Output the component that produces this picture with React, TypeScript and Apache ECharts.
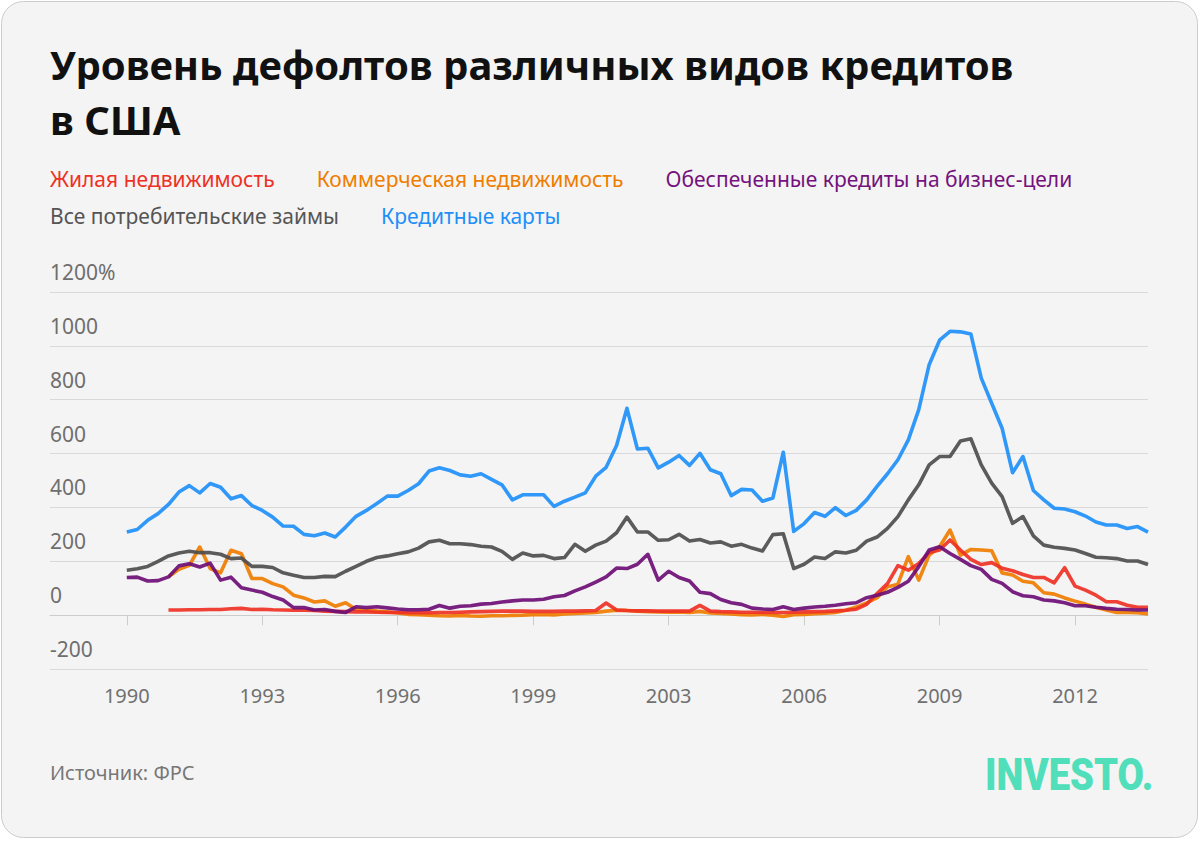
import React, { useEffect, useRef } from "react";
import * as echarts from "echarts";

// Quarterly data, 1990 Q1 … 2014 Q3 (index = quarter number from 1990 Q1)
const firstYear = 1990;
const quarterIndex: number[] = Array.from({ length: 99 }, (_, i) => i);
const tickQuarters = [0, 13, 26, 39, 52, 65, 78, 91];
const yTicks = [-200, 0, 200, 400, 600, 800, 1000, 1200];

const seriesNames = [
  "Жилая недвижимость",
  "Коммерческая недвижимость",
  "Обеспеченные кредиты на бизнес-цели",
  "Все потребительские займы",
  "Кредитные карты",
];

const residential = [
  null, null, null, null, 19, 19, 20, 20, 21, 21,
  24, 25, 21, 22, 20, 19, 18, 18, 17, 15,
  14, 13, 12, 12, 11, 10, 10, 9, 9, 9,
  10, 10, 11, 12, 13, 14, 15, 15, 15, 14,
  14, 14, 15, 15, 16, 17, 45, 19, 17, 16,
  16, 15, 15, 15, 15, 36, 15, 13, 12, 11,
  11, 10, 10, 10, 11, 12, 13, 14, 16, 18,
  22, 40, 80, 117, 184, 167, 192, 233, 242, 279,
  242, 207, 188, 195, 174, 165, 151, 140, 140, 120,
  176, 108, 93, 74, 50, 50, 37, 29, 29,
];

const commercial = [
  null, null, null, null, 142, 170, 185, 253, 173, 157,
  241, 228, 136, 136, 117, 105, 74, 64, 49, 53,
  33, 46, 21, 19, 15, 12, 8, 3, 2, 0,
  -2, -3, -1, -3, -4, -2, -2, -1, 0, 2,
  3, 1, 4, 6, 8, 10, 15, 18, 17, 15,
  13, 12, 11, 12, 10, 14, 8, 6, 4, 2,
  1, 3, 0, -5, 2, 3, 5, 7, 10, 18,
  30, 45, 65, 105, 115, 217, 130, 223, 254, 316,
  223, 244, 242, 239, 157, 149, 126, 120, 83, 78,
  64, 52, 41, 29, 19, 10, 10, 9, 4,
];

const business = [
  140, 141, 127, 128, 142, 183, 191, 179, 193, 130,
  141, 102, 93, 85, 69, 56, 28, 28, 19, 21,
  14, 10, 31, 28, 31, 27, 23, 20, 20, 22,
  36, 26, 33, 35, 41, 43, 49, 53, 56, 56,
  59, 68, 73, 90, 105, 123, 142, 175, 173, 189,
  226, 130, 163, 140, 127, 85, 80, 58, 46, 40,
  26, 23, 21, 31, 21, 26, 30, 33, 37, 42,
  46, 65, 74, 85, 103, 126, 180, 242, 254, 229,
  207, 184, 170, 133, 118, 87, 72, 68, 56, 53,
  46, 35, 35, 29, 25, 22, 21, 19, 19,
];

const consumer = [
  167, 172, 181, 200, 220, 231, 237, 232, 232, 226,
  210, 212, 181, 181, 177, 157, 148, 140, 140, 144,
  143, 163, 181, 200, 214, 220, 228, 235, 249, 272,
  278, 265, 265, 262, 256, 253, 237, 207, 231, 220,
  222, 210, 214, 263, 237, 260, 275, 306, 364, 309,
  309, 278, 280, 300, 275, 281, 268, 272, 256, 263,
  249, 238, 299, 302, 173, 189, 216, 210, 235, 231,
  241, 275, 290, 322, 366, 428, 484, 558, 589, 589,
  647, 655, 558, 490, 440, 341, 366, 294, 260, 252,
  248, 242, 229, 215, 213, 210, 201, 201, 188,
];

const creditCards = [
  309, 318, 352, 377, 411, 457, 481, 454, 489, 475,
  432, 444, 407, 389, 364, 331, 330, 300, 295, 305,
  290, 327, 367, 389, 415, 442, 442, 463, 488, 535,
  547, 537, 521, 516, 525, 504, 484, 428, 447, 447,
  447, 404, 423, 438, 454, 516, 549, 630, 768, 617,
  620, 547, 568, 593, 556, 601, 540, 525, 444, 467,
  465, 423, 435, 605, 311, 340, 381, 367, 399, 370,
  389, 428, 478, 525, 577, 651, 763, 930, 1021, 1054,
  1052, 1044, 880, 787, 694, 529, 589, 463, 428, 397,
  394, 384, 368, 346, 335, 335, 322, 329, 308,
];

const COLORS = {
  red: "#ee3124",
  orange: "#ef7d00",
  purple: "#6d0e76",
  gray: "#4d4d4d",
  blue: "#1e8ff7",
};

const FONT = "'Noto Sans', Roboto, sans-serif";

function toPoints(values: (number | null)[]) {
  const pts: [number, number][] = [];
  values.forEach((v, i) => {
    if (v !== null) pts.push([quarterIndex[i], v]);
  });
  return pts;
}

export default function App() {
  const ref = useRef<HTMLDivElement>(null);

  useEffect(() => {
    document.body.style.margin = "0";
    const chart = echarts.init(ref.current!, undefined, { renderer: "svg" });

    const lineSeries = (name: string, color: string, values: (number | null)[], z: number) => ({
      name,
      type: "line",
      data: toPoints(values),
      showSymbol: false,
      symbol: "none",
      z,
      lineStyle: { color, width: 3.6, opacity: 0.92, join: "round" },
      itemStyle: { color },
      emphasis: { disabled: true },
    });

    const legendBase = {
      icon: "none",
      itemWidth: 0,
      itemHeight: 22,
      itemGap: 37,
      left: 45,
      orient: "horizontal",
      selectedMode: false,
      padding: 0,
      textStyle: { fontSize: 21, fontFamily: FONT, lineHeight: 22 },
    };

    chart.setOption({
      animation: false,
      backgroundColor: "transparent",
      title: {
        text: "Уровень дефолтов различных видов кредитов\nв США",
        left: 50,
        top: 37,
        padding: 0,
        textStyle: {
          fontSize: 40,
          fontWeight: "bold",
          fontFamily: "'Noto Sans', Roboto, sans-serif",
          lineHeight: 55,
          color: "#111111",
        },
      },
      legend: [
        {
          ...legendBase,
          top: 168,
          data: [
            { name: seriesNames[0], textStyle: { color: COLORS.red } },
            { name: seriesNames[1], textStyle: { color: COLORS.orange } },
            { name: seriesNames[2], textStyle: { color: "#75127d" } },
          ],
        },
        {
          ...legendBase,
          top: 205,
          data: [
            { name: seriesNames[3], textStyle: { color: "#555555" } },
            { name: seriesNames[4], textStyle: { color: COLORS.blue } },
          ],
        },
      ],
      grid: { left: 50, right: 52, top: 292, bottom: 172, containLabel: false },
      xAxis: {
        type: "value",
        min: -7.37,
        max: 98,
        splitLine: { show: false },
        axisLine: { show: true, lineStyle: { color: "#cccccc", width: 1 } },
        axisTick: {
          show: true,
          customValues: tickQuarters,
          length: 10,
          lineStyle: { color: "#cccccc" },
        },
        axisLabel: {
          customValues: tickQuarters,
          formatter: (v: number) => String(firstYear + Math.floor(v / 4)),
          color: "#707070",
          fontSize: 20,
          fontFamily: FONT,
          margin: 16,
          lineHeight: 20,
        },
      },
      yAxis: {
        type: "value",
        min: yTicks[0],
        max: yTicks[yTicks.length - 1],
        interval: 200,
        axisLine: { show: false },
        axisTick: { show: false },
        splitLine: { show: true, lineStyle: { color: "#d9d9d9", width: 1 } },
        axisLabel: {
          inside: true,
          margin: 0,
          align: "left",
          verticalAlign: "bottom",
          lineHeight: 40,
          color: "#6e6e6e",
          fontSize: 21,
          fontFamily: FONT,
          formatter: (v: number) => (v === yTicks[yTicks.length - 1] ? `${v}%` : String(v)),
        },
      },
      series: [
        lineSeries(seriesNames[1], COLORS.orange, commercial, 2),
        lineSeries(seriesNames[0], COLORS.red, residential, 3),
        lineSeries(seriesNames[2], COLORS.purple, business, 4),
        lineSeries(seriesNames[3], COLORS.gray, consumer, 5),
        lineSeries(seriesNames[4], COLORS.blue, creditCards, 6),
      ],
      graphic: [
        {
          type: "rect",
          z: -10,
          silent: true,
          shape: { x: 1.5, y: 1.5, width: 1196, height: 836, r: 22 },
          style: { fill: "#f4f4f4", stroke: "#cccccc", lineWidth: 1 },
        },
        {
          type: "text",
          x: 50,
          y: 772,
          silent: true,
          style: {
            text: "Источник: ФРС",
            fill: "#777777",
            font: `20px ${FONT}`,
            textAlign: "left",
            textVerticalAlign: "middle",
            align: "left",
            verticalAlign: "middle",
          },
        },
        {
          type: "text",
          x: 985,
          y: 774,
          scaleX: 0.85,
          silent: true,
          style: {
            text: "INVESTO.",
            fill: "#50dfba",
            font: `900 45px Roboto, sans-serif`,
            textAlign: "left",
            textVerticalAlign: "middle",
            align: "left",
            verticalAlign: "middle",
          },
        },
      ],
    });

    return () => chart.dispose();
  }, []);

  return (
    <div
      ref={ref}
      style={{ position: "absolute", left: 0, top: 0, width: 1200, height: 841, background: "#ffffff" }}
    />
  );
}
